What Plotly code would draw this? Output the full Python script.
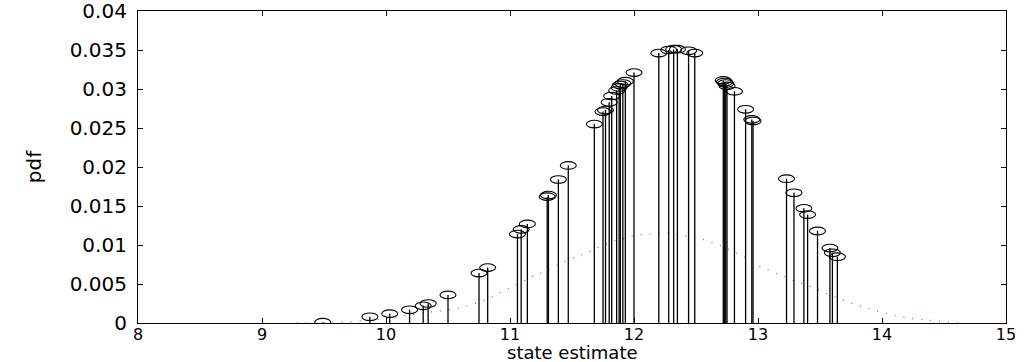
import plotly.graph_objects as go

# ---- data ----
stem_x = [9.49, 9.87, 10.03, 10.19, 10.30, 10.34, 10.50, 10.75, 10.82,
          11.06, 11.09, 11.14, 11.30, 11.31, 11.39, 11.47, 11.68, 11.75,
          11.77, 11.80, 11.82, 11.86, 11.88, 11.89, 11.91, 11.93, 12.00,
          12.20, 12.28, 12.32, 12.35, 12.44, 12.49, 12.72, 12.73, 12.74,
          12.75, 12.81, 12.90, 12.95, 12.96, 13.23, 13.29, 13.37, 13.40,
          13.48, 13.58, 13.60, 13.64]
stem_y = [0.0001, 0.0008, 0.0012, 0.0017, 0.0022, 0.0025, 0.0036, 0.0064, 0.0071,
          0.0114, 0.0120, 0.0127, 0.0162, 0.0164, 0.0184, 0.0202, 0.0255, 0.0271,
          0.0273, 0.0283, 0.0291, 0.0298, 0.0302, 0.0305, 0.0307, 0.0310, 0.0321,
          0.0346, 0.0350, 0.0351, 0.0351, 0.0349, 0.0346, 0.0311, 0.0309, 0.0307,
          0.0304, 0.0297, 0.0274, 0.0261, 0.0259, 0.0185, 0.0167, 0.0147, 0.0139,
          0.0118, 0.0096, 0.0090, 0.0085]

curve_x = [9.28, 9.50, 9.67, 9.80, 9.97, 10.13, 10.23, 10.42, 10.60, 10.81,
           10.94, 11.02, 11.10, 11.21, 11.28, 11.34, 11.40, 11.47, 11.54, 11.62,
           11.69, 11.76, 11.83, 11.91, 11.99, 12.09, 12.19, 12.28, 12.38, 12.47,
           12.56, 12.64, 12.72, 12.77, 12.84, 12.90, 12.96, 13.03, 13.10, 13.17,
           13.24, 13.31, 13.39, 13.46, 13.53, 13.60, 13.67, 13.76, 13.84, 13.92,
           14.00, 14.08, 14.17, 14.27, 14.35, 14.45, 14.54, 14.64]
curve_y = [0.0000, 0.0001, 0.0001, 0.0003, 0.0005, 0.0009, 0.0011, 0.0015, 0.0019, 0.0030,
           0.0040, 0.0046, 0.0053, 0.0062, 0.0066, 0.0071, 0.0076, 0.0081, 0.0086, 0.0090,
           0.0095, 0.0100, 0.0105, 0.0108, 0.0112, 0.0114, 0.0115, 0.0115, 0.0112, 0.0110,
           0.0107, 0.0103, 0.0098, 0.0094, 0.0089, 0.0084, 0.0076, 0.0071, 0.0066, 0.0062,
           0.0058, 0.0053, 0.0049, 0.0044, 0.0039, 0.0034, 0.0030, 0.0025, 0.0021, 0.0017,
           0.0013, 0.0010, 0.0008, 0.0005, 0.0004, 0.0002, 0.0001, 0.0000]

x_ticks = [8, 9, 10, 11, 12, 13, 14, 15]
y_ticks = [0, 0.005, 0.01, 0.015, 0.02, 0.025, 0.03, 0.035, 0.04]
y_tick_labels = ["0", "0.005", "0.01", "0.015", "0.02", "0.025", "0.03", "0.035", "0.04"]
x_title = "state estimate"
y_title = "pdf"

# ---- build stems ----
sx, sy = [], []
for xv, yv in zip(stem_x, stem_y):
    sx += [xv, xv, None]
    sy += [0, yv, None]

fig = go.Figure()
fig.add_trace(go.Scatter(x=curve_x, y=curve_y, mode="lines",
                         line=dict(color="#e04a62", width=1.3, dash="1px,8px"),
                         hoverinfo="skip", showlegend=False))
fig.add_trace(go.Scatter(x=sx, y=sy, mode="lines",
                         line=dict(color="black", width=1.3),
                         hoverinfo="skip", showlegend=False))

shapes = []
for xv, yv in zip(stem_x, stem_y):
    shapes.append(dict(type="circle", xref="x", yref="y",
                       xsizemode="pixel", ysizemode="pixel",
                       xanchor=xv, yanchor=yv,
                       x0=-8, x1=8, y0=-3.8, y1=3.8,
                       line=dict(color="black", width=1.1),
                       fillcolor="rgba(0,0,0,0)", layer="above"))

fam = "DejaVu Sans, Liberation Sans, Arial"
font = dict(family=fam, size=20, color="black")
xtickfont = dict(family=fam, size=16, color="black")
xtitlefont = dict(family=fam, size=18, color="black")

fig.update_layout(
    width=1026, height=362,
    margin=dict(l=138, r=20, t=11, b=39),
    paper_bgcolor="white", plot_bgcolor="white",
    shapes=shapes,
    font=font,
    showlegend=False,
    annotations=[dict(text=x_title, xref="paper", yref="paper", x=0.5, y=0,
                      xanchor="center", yanchor="bottom", yshift=-41,
                      showarrow=False, borderpad=0, font=xtitlefont)],
)
fig.update_xaxes(range=[8, 15], tickvals=x_ticks, ticktext=[str(t) for t in x_ticks],
                 ticks="inside", ticklen=5, tickcolor="black", tickwidth=1,
                 showline=True, linecolor="black", linewidth=1.2, mirror="ticks",
                 showgrid=False, zeroline=False, automargin=False,
                 ticklabelstandoff=-3, ticklabeloverflow="allow",
                 tickfont=xtickfont)
fig.update_yaxes(range=[0, 0.04], tickvals=y_ticks, ticktext=y_tick_labels,
                 ticks="inside", ticklen=5, tickcolor="black", tickwidth=1,
                 showline=True, linecolor="black", linewidth=1.2, mirror="ticks",
                 showgrid=False, zeroline=False, automargin=False,
                 ticklabelstandoff=6, ticklabeloverflow="allow",
                 title=dict(text=y_title, standoff=22, font=font),
                 tickfont=font)

fig.write_html("out.html", config={"displayModeBar": False},
               post_script="document.body.style.margin='0';document.body.style.padding='0';")
